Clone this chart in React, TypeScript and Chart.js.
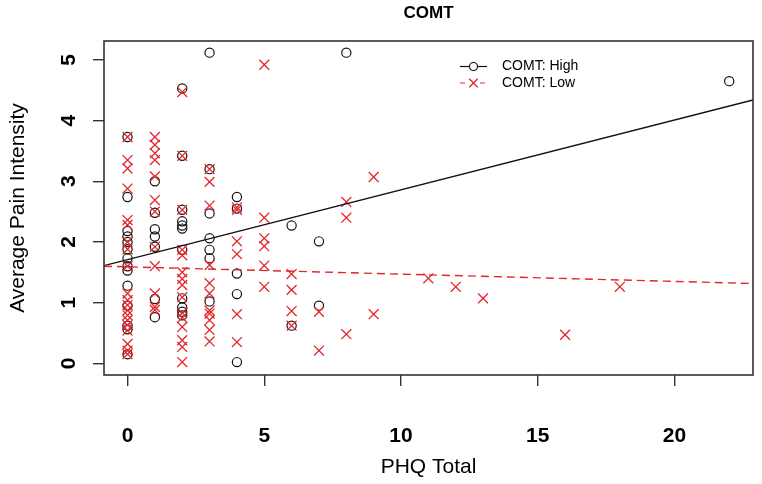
import React, { useEffect, useRef } from "react";
import { Chart, registerables } from "chart.js";

Chart.register(...registerables);

const FONT = '"Liberation Sans", Arial, Helvetica, sans-serif';
const RED = "#e3262b";
const INK = "#111111";

const TITLE = "COMT";
const X_TITLE = "PHQ Total";
const Y_TITLE = "Average Pain Intensity";
const LEGEND_LABELS = ["COMT: High", "COMT: Low"];

const X_TICKS = [0, 5, 10, 15, 20];
const Y_TICKS = [0, 1, 2, 3, 4, 5];
const X_RANGE = [-0.86, 22.87];
const Y_RANGE = [-0.193, 5.312];

// COMT: High (open circles)
const highPHQ = [
  0, 0, 0, 0, 0, 0, 0, 0, 0, 0, 0, 0, 0, 0,
  1, 1, 1, 1, 1, 1, 1,
  2, 2, 2, 2, 2, 2, 2, 2, 2, 2, 2,
  3, 3, 3, 3, 3, 3, 3,
  4, 4, 4, 4, 4,
  6, 6,
  7, 7,
  8,
  22,
];
const highPain = [
  3.73, 2.74, 2.18, 2.09, 2.0, 1.88, 1.73, 1.6, 1.53, 1.28, 0.95, 0.62, 0.56, 0.15,
  3.0, 2.48, 2.21, 2.09, 1.92, 1.06, 0.76,
  4.53, 3.42, 2.53, 2.34, 2.27, 2.22, 1.87, 1.07, 0.92, 0.85, 0.79,
  5.12, 3.2, 2.47, 2.06, 1.87, 1.73, 1.02,
  2.74, 2.55, 1.48, 1.14, 0.02,
  2.27, 0.62,
  2.01, 0.95,
  5.12,
  4.65,
];

// COMT: Low (red crosses)
const lowPHQ = [
  0, 0, 0, 0, 0, 0, 0, 0, 0, 0, 0, 0, 0, 0, 0, 0, 0, 0, 0, 0,
  1, 1, 1, 1, 1, 1, 1, 1, 1, 1, 1, 1,
  2, 2, 2, 2, 2, 2, 2, 2, 2, 2, 2, 2, 2, 2, 2,
  3, 3, 3, 3, 3, 3, 3, 3, 3, 3, 3,
  4, 4, 4, 4, 4, 4,
  5, 5, 5, 5, 5, 5,
  6, 6, 6, 6,
  7, 7,
  8, 8, 8,
  9, 9,
  11, 12, 13, 16, 18,
];
const lowPain = [
  3.73, 3.35, 3.21, 2.88, 2.36, 2.28, 2.0, 1.88, 1.6, 1.15, 1.04, 0.96, 0.87, 0.79, 0.71, 0.63, 0.54, 0.32, 0.21, 0.15,
  3.73, 3.6, 3.46, 3.35, 3.08, 2.69, 2.5, 1.92, 1.6, 1.15, 0.93, 0.88,
  4.47, 3.42, 2.53, 1.87, 1.78, 1.5, 1.39, 1.29, 1.09, 0.83, 0.75, 0.6, 0.38, 0.27, 0.02,
  3.2, 2.99, 2.6, 1.62, 1.32, 1.15, 0.87, 0.82, 0.71, 0.55, 0.36,
  2.57, 2.53, 2.01, 1.8, 0.81, 0.35,
  4.92, 2.4, 2.06, 1.93, 1.61, 1.26,
  1.47, 1.21, 0.86, 0.62,
  0.85, 0.21,
  2.66, 2.4, 0.48,
  3.07, 0.81,
  1.4, 1.26, 1.07, 0.47, 1.26,
];

// Fitted regression lines (end points read at the plot edges)
const fitX = [-0.86, 22.87];
const highFitY = [1.61, 4.34];
const lowFitY = [1.6, 1.315];

const toPoints = (xs: number[], ys: number[]) => xs.map((x, i) => ({ x, y: ys[i] }));

const decorPlugin = {
  id: "decor",
  afterDraw(chart: any) {
    const { ctx, chartArea, scales } = chart;
    const ys = scales.y;
    ctx.save();
    // box
    ctx.strokeStyle = "#333333";
    ctx.lineWidth = 1.6;
    ctx.strokeRect(chartArea.left, chartArea.top, chartArea.right - chartArea.left, chartArea.bottom - chartArea.top);

    // title
    const cx = (chartArea.left + chartArea.right) / 2;
    ctx.fillStyle = "#000";
    ctx.textAlign = "center";
    ctx.textBaseline = "middle";
    ctx.font = `bold 17px ${FONT}`;
    ctx.fillText(TITLE, cx, 13);

    // x title
    ctx.font = `21px ${FONT}`;
    ctx.fillText(X_TITLE, cx, 467);

    // y title
    const cy = (chartArea.top + chartArea.bottom) / 2;
    ctx.save();
    ctx.translate(18, cy);
    ctx.rotate(-Math.PI / 2);
    ctx.fillText(Y_TITLE, 0, 0);
    ctx.restore();

    // rotated y tick labels
    ctx.font = `bold 21px ${FONT}`;
    for (const v of Y_TICKS) {
      const py = ys.getPixelForValue(v);
      ctx.save();
      ctx.translate(68, py);
      ctx.rotate(-Math.PI / 2);
      ctx.fillText(String(v), 0, 1);
      ctx.restore();
    }

    // legend
    const lx0 = 460, lx1 = 487, tx = 502;
    const rows = [66.5, 83];
    ctx.textAlign = "left";
    ctx.font = `14px ${FONT}`;
    // High
    ctx.strokeStyle = INK;
    ctx.lineWidth = 1.2;
    ctx.setLineDash([]);
    ctx.beginPath();
    ctx.moveTo(lx0, rows[0]);
    ctx.lineTo(lx1, rows[0]);
    ctx.stroke();
    ctx.fillStyle = "#fff";
    ctx.beginPath();
    ctx.arc((lx0 + lx1) / 2, rows[0], 4, 0, Math.PI * 2);
    ctx.fill();
    ctx.stroke();
    ctx.fillStyle = "#000";
    ctx.fillText(LEGEND_LABELS[0], tx, rows[0]);
    // Low
    ctx.strokeStyle = RED;
    ctx.setLineDash([5, 5]);
    ctx.beginPath();
    ctx.moveTo(lx0, rows[1]);
    ctx.lineTo(lx1 + 2, rows[1]);
    ctx.stroke();
    ctx.setLineDash([]);
    const mx = (lx0 + lx1) / 2, r = 4.2;
    ctx.fillStyle = "#fff";
    ctx.fillRect(mx - 5, rows[1] - 2, 10, 4);
    ctx.lineWidth = 1.3;
    ctx.beginPath();
    ctx.moveTo(mx - r, rows[1] - r);
    ctx.lineTo(mx + r, rows[1] + r);
    ctx.moveTo(mx - r, rows[1] + r);
    ctx.lineTo(mx + r, rows[1] - r);
    ctx.stroke();
    ctx.fillStyle = "#000";
    ctx.fillText(LEGEND_LABELS[1], tx, rows[1]);
    ctx.restore();
  },
};

export default function App() {
  const ref = useRef<HTMLCanvasElement | null>(null);

  useEffect(() => {
    if (!ref.current) return;
    const chart = new Chart(ref.current, {
      type: "scatter",
      data: {
        datasets: [
          {
            type: "line",
            label: "fit low",
            data: toPoints(fitX, lowFitY),
            borderColor: RED,
            borderWidth: 1.4,
            borderDash: [8, 5],
            pointRadius: 0,
            fill: false,
            order: 1,
          } as any,
          {
            type: "line",
            label: "fit high",
            data: toPoints(fitX, highFitY),
            borderColor: INK,
            borderWidth: 1.4,
            pointRadius: 0,
            fill: false,
            order: 2,
          } as any,
          {
            label: LEGEND_LABELS[1],
            data: toPoints(lowPHQ, lowPain),
            pointStyle: "crossRot",
            pointRadius: 7,
            borderColor: RED,
            backgroundColor: RED,
            pointBorderWidth: 1.3,
            showLine: false,
            order: 3,
          } as any,
          {
            label: LEGEND_LABELS[0],
            data: toPoints(highPHQ, highPain),
            pointStyle: "circle",
            pointRadius: 4.6,
            borderColor: INK,
            backgroundColor: "rgba(0,0,0,0)",
            pointBorderWidth: 1.2,
            showLine: false,
            order: 4,
          } as any,
        ],
      },
      options: {
        responsive: false,
        animation: false,
        devicePixelRatio: 1,
        layout: { padding: { top: 41, right: 9, left: 0, bottom: 0 } },
        plugins: {
          legend: { display: false },
          title: { display: false },
          tooltip: { enabled: false },
        },
        scales: {
          x: {
            type: "linear",
            min: X_RANGE[0],
            max: X_RANGE[1],
            afterBuildTicks: (s: any) => {
              s.ticks = X_TICKS.map((v) => ({ value: v }));
            },
            afterFit: (s: any) => {
              s.height = 109;
            },
            grid: {
              drawOnChartArea: false,
              drawTicks: true,
              tickLength: 11,
              color: "#333333",
              lineWidth: 1.4,
            },
            border: { display: false },
            ticks: {
              autoSkip: false,
              maxRotation: 0,
              minRotation: 0,
              padding: 38,
              color: "#000",
              font: { family: FONT, size: 21, weight: "bold" },
              callback: (v: any) => String(v),
            },
          },
          y: {
            type: "linear",
            min: Y_RANGE[0],
            max: Y_RANGE[1],
            afterBuildTicks: (s: any) => {
              s.ticks = Y_TICKS.map((v) => ({ value: v }));
            },
            afterFit: (s: any) => {
              s.width = 104;
            },
            grid: {
              drawOnChartArea: false,
              drawTicks: true,
              tickLength: 11,
              color: "#333333",
              lineWidth: 1.4,
            },
            border: { display: false },
            ticks: {
              color: "rgba(0,0,0,0)",
              padding: 20,
              font: { family: FONT, size: 21, weight: "bold" },
              callback: (v: any) => String(v),
            },
          },
        },
      } as any,
      plugins: [decorPlugin],
    });
    return () => chart.destroy();
  }, []);

  return (
    <div style={{ position: "fixed", left: 0, top: 0, width: 762, height: 484, background: "#fff" }}>
      <canvas ref={ref} width={762} height={484} style={{ width: 762, height: 484, display: "block" }} />
    </div>
  );
}
